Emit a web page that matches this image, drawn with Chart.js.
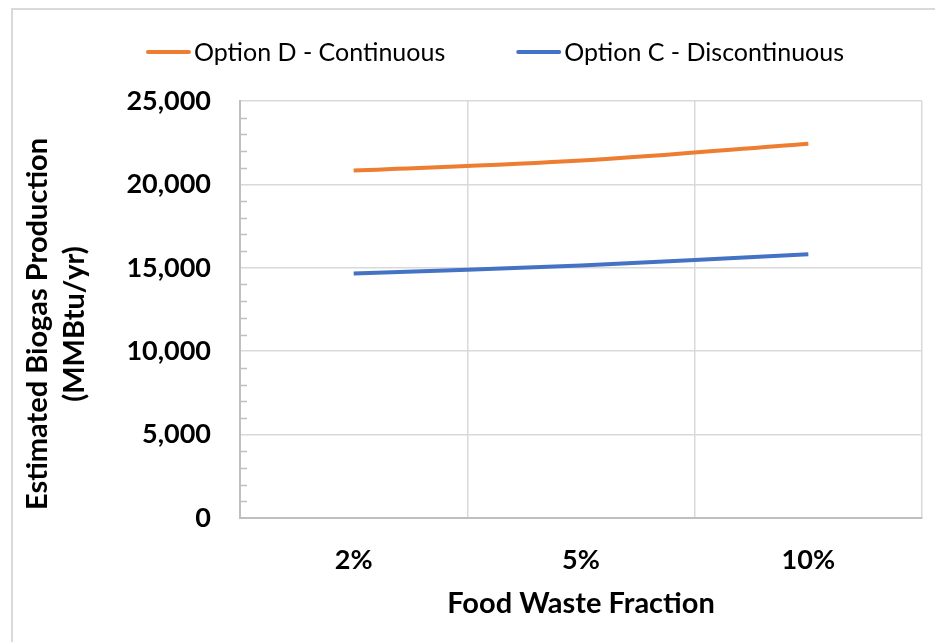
<!DOCTYPE html>
<html>
<head>
<meta charset="utf-8">
<script src="https://cdn.jsdelivr.net/npm/chart.js@4"></script>
<style>
  html, body { margin: 0; padding: 0; background: #fff; overflow: hidden; }
  #wrap { position: relative; width: 935px; height: 642px; }
  #frame { position: absolute; left: 11px; top: 8px; width: 940px; height: 650px;
           border-left: 2px solid #d9d9d9; border-top: 2px solid #d9d9d9; }
  canvas { position: absolute; left: 0; top: 0; }
</style>
</head>
<body>
<div id="wrap">
  <div id="frame"></div>
  <canvas id="chart"></canvas>
</div>
<script>
var categories = ["2%", "5%", "10%"];
var optionD = [20830, 21430, 22440];
var optionC = [14660, 15140, 15810];
var seriesNames = ["Option D - Continuous", "Option C - Discontinuous"];
var yTitle = ["Estimated Biogas Production", "(MMBtu/yr)"];
var xTitle = "Food Waste Fraction";

var FONT = "Lato, 'Open Sans', sans-serif";

// legend drawn on the canvas, with Excel-like spacing
var lineLegend = {
  id: "lineLegend",
  afterDraw: function (chart) {
    var ctx = chart.ctx;
    var sets = chart.data.datasets;
    ctx.save();
    ctx.font = "25px " + FONT;
    var sample = 45, gapText = 3, gapItem = 71;
    var total = 0;
    sets.forEach(function (ds, i) {
      total += sample + gapText + ctx.measureText(ds.label).width;
      if (i < sets.length - 1) total += gapItem;
    });
    var x = 495 - total / 2;
    var y = 52;
    ctx.textBaseline = "middle";
    ctx.textAlign = "left";
    sets.forEach(function (ds) {
      ctx.strokeStyle = ds.borderColor;
      ctx.lineWidth = 4;
      ctx.lineCap = "round";
      ctx.beginPath();
      ctx.moveTo(x + 2, y);
      ctx.lineTo(x + sample - 2, y);
      ctx.stroke();
      x += sample + gapText;
      ctx.fillStyle = "#000";
      ctx.fillText(ds.label, x, y + 1);
      x += ctx.measureText(ds.label).width + gapItem;
    });
    ctx.restore();
  }
};

// short minor tick marks on the inside of the value axis
var minorTicks = {
  id: "minorTicks",
  beforeDatasetsDraw: function (chart) {
    var y = chart.scales.y;
    var ctx = chart.ctx;
    var left = chart.chartArea.left;
    ctx.save();
    ctx.strokeStyle = "#bfbfbf";
    ctx.lineWidth = 1.5;
    y.ticks.forEach(function (t) {
      if (t.value % 5000 === 0) return;
      var py = Math.round(y.getPixelForValue(t.value)) + 0.5;
      ctx.beginPath();
      ctx.moveTo(left, py);
      ctx.lineTo(left + 7, py);
      ctx.stroke();
    });
    ctx.restore();
  }
};

var canvas = document.getElementById("chart");
canvas.width = 935;
canvas.height = 642;

new Chart(canvas, {
  type: "line",
  data: {
    labels: categories,
    datasets: [
      {
        label: seriesNames[0],
        data: optionD,
        borderColor: "#ed7d31",
        borderWidth: 4,
        pointRadius: 0,
        tension: 0.35,
      },
      {
        label: seriesNames[1],
        data: optionC,
        borderColor: "#4472c4",
        borderWidth: 4,
        pointRadius: 0,
        tension: 0.35,
      },
    ],
  },
  options: {
    responsive: false,
    animation: false,
    layout: {
      padding: { top: 101, left: 12, right: 13, bottom: 0 },
    },
    plugins: {
      legend: { display: false },
      tooltip: { enabled: false },
    },
    scales: {
      x: {
        type: "category",
        offset: true,
        afterFit: function (scale) {
          scale.height = 124;
        },
        grid: {
          offset: true,
          color: "#d9d9d9",
          lineWidth: 1.5,
          drawTicks: false,
        },
        border: { color: "#bfbfbf", width: 2 },
        ticks: {
          color: "#000",
          padding: 26,
          font: { family: FONT, size: 27, weight: "bold" },
        },
        title: {
          display: true,
          text: xTitle,
          color: "#000",
          font: { family: FONT, size: 29, weight: "bold" },
          padding: { top: 10, bottom: 21 },
        },
      },
      y: {
        type: "linear",
        min: 0,
        max: 25000,
        afterFit: function (scale) {
          scale.width = 228;
        },
        grid: {
          color: function (c) {
            return c.tick && c.tick.value % 5000 === 0 ? "#d9d9d9" : "rgba(0,0,0,0)";
          },
          lineWidth: 1.5,
          drawTicks: false,
        },
        border: { color: "#bfbfbf", width: 2 },
        ticks: {
          stepSize: 1000,
          autoSkip: false,
          color: "#000",
          padding: 29,
          font: { family: FONT, size: 27, weight: "bold" },
          callback: function (v) {
            return v % 5000 === 0 ? v.toLocaleString("en-US") : "";
          },
        },
        title: {
          display: true,
          // trailing en spaces nudge the rotated title down a little, as in Excel
          text: yTitle.map(function (s) { return s + "\u2002\u2002"; }),
          color: "#000",
          font: { family: FONT, size: 29, weight: "bold", lineHeight: 1.28 },
          padding: { top: 7, bottom: 0 },
        },
      },
    },
  },
  plugins: [minorTicks, lineLegend],
});
</script>
</body>
</html>
